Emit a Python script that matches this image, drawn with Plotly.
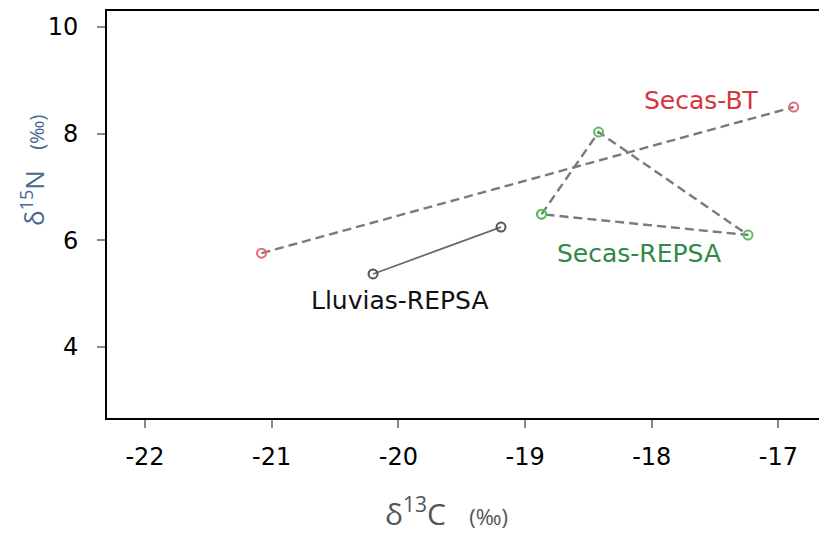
import plotly.graph_objects as go

# Data (delta13C, delta15N)
secas_bt_x = [-21.08, -16.88]
secas_bt_y = [5.76, 8.50]
lluvias_x = [-20.20, -19.19]
lluvias_y = [5.37, 6.25]
secas_repsa_x = [-18.87, -18.42, -17.24, -18.87]
secas_repsa_y = [6.49, 8.03, 6.10, 6.49]

x_ticks = [-22, -21, -20, -19, -18, -17]
x_ticktext = ["-22", "-21", "-20", "-19", "-18", "-17"]
y_ticks = [4, 6, 8, 10]

labels = ["Secas-BT", "Secas-REPSA", "Lluvias-REPSA"]
label_colors = ["#d8343c", "#2e8a46", "#111111"]
label_x = [-17.61, -18.10, -19.99]
label_y = [8.62, 5.76, 4.88]

fig = go.Figure()
fig.add_trace(go.Scatter(
    x=secas_bt_x, y=secas_bt_y, mode="lines+markers",
    line=dict(color="#7a7a7a", width=2.4, dash="9px,5px"),
    marker=dict(symbol="circle-open", size=9, color="#e36a70", line=dict(width=2)),
    showlegend=False))
fig.add_trace(go.Scatter(
    x=secas_repsa_x, y=secas_repsa_y, mode="lines+markers",
    line=dict(color="#7a7a7a", width=2.4, dash="9px,5px"),
    marker=dict(symbol="circle-open", size=9, color="#5cbf5c", line=dict(width=2)),
    showlegend=False))
fig.add_trace(go.Scatter(
    x=lluvias_x, y=lluvias_y, mode="lines+markers",
    line=dict(color="#6a6a6a", width=1.8),
    marker=dict(symbol="circle-open", size=9, color="#555555", line=dict(width=2)),
    showlegend=False))

for t, c, ax, ay in zip(labels, label_colors, label_x, label_y):
    fig.add_annotation(x=ax, y=ay, xref="x", yref="y", text=t, showarrow=False,
                       font=dict(family="DejaVu Sans", size=25, color=c))

fig.add_annotation(x=0.4775, y=-0.232, xref="paper", yref="paper", showarrow=False,
                   text="δ<sup>13</sup>C   <span style='font-size:22px'>(‰)</span>",
                   font=dict(family="Open Sans", size=30, color="#555555"),
                   xanchor="center", yanchor="middle")
fig.add_annotation(x=-0.104, y=0.609, xref="paper", yref="paper", showarrow=False,
                   text="δ<sup>15</sup>N   <span style='font-size:20px'>(‰)</span>",
                   textangle=-90,
                   font=dict(family="Open Sans", size=26, color="#46688f"),
                   xanchor="center", yanchor="middle")

fig.update_layout(
    width=819, height=540,
    margin=dict(l=107, r=0, t=11, b=122),
    plot_bgcolor="white", paper_bgcolor="white",
    xaxis=dict(range=[-22.30, -16.68], tickvals=x_ticks, ticktext=x_ticktext,
               showgrid=False, zeroline=False,
               showline=True, linecolor="black", linewidth=2, mirror=True,
               ticks="outside", ticklen=8, tickwidth=2, tickcolor="#888888",
               ticklabelstandoff=8,
               tickfont=dict(family="DejaVu Sans", size=24, color="black")),
    yaxis=dict(range=[2.67, 10.3], tickvals=y_ticks, showgrid=False, zeroline=False,
               showline=True, linecolor="black", linewidth=2,
               ticks="outside", ticklen=8, tickwidth=2, tickcolor="#888888",
               ticklabelstandoff=14,
               tickfont=dict(family="DejaVu Sans", size=24, color="black")),
)
fig.write_html("out.html")
